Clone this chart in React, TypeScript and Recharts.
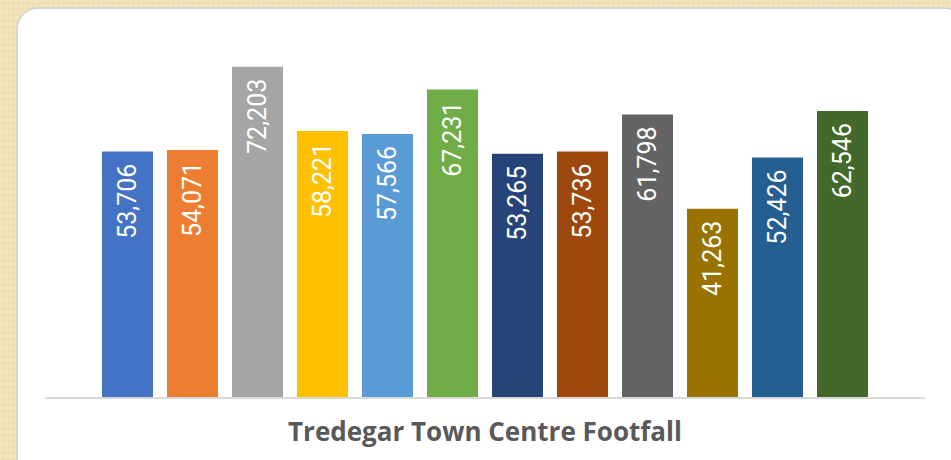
import { BarChart, Bar, XAxis, YAxis, Cell, LabelList, ReferenceLine } from "recharts";

const areas = ["A", "B", "C", "D", "E", "F", "G", "H", "I", "J", "K", "L"];
const footfall = [53706, 54071, 72203, 58221, 57566, 67231, 53265, 53736, 61798, 41263, 52426, 62546];
const barColors = [
  "#4472C4", "#ED7D31", "#A5A5A5", "#FFC000", "#5B9BD5", "#70AD47",
  "#264478", "#9E480E", "#636363", "#997300", "#255E91", "#43682B",
];
const title = "Tredegar Town Centre Footfall";

const data = areas.map((name, i) => ({ name, value: footfall[i] }));

const ValueLabel = (props: any) => {
  const { x, y, width, value } = props;
  const cx = x + width / 2;
  const ty = y + 12;
  return (
    <text
      x={cx}
      y={ty}
      transform={`rotate(-90 ${cx} ${ty})`}
      textAnchor="end"
      dominantBaseline="central"
      fill="#ffffff"
      fontFamily="Roboto, sans-serif"
      fontSize={25}
    >
      {Number(value).toLocaleString("en-US")}
    </text>
  );
};

export default function App() {
  return (
    <div
      style={{
        position: "fixed",
        left: 0,
        top: 0,
        width: 951,
        height: 460,
        overflow: "hidden",
        background:
          "repeating-linear-gradient(90deg, rgba(255,255,255,0.12) 0 2px, rgba(0,0,0,0) 2px 5px), repeating-linear-gradient(0deg, rgba(200,170,100,0.10) 0 2px, rgba(0,0,0,0) 2px 6px), #f3e3b9",
      }}
    >
      <div
        style={{
          position: "absolute",
          left: 16,
          top: 7,
          width: 950,
          height: 480,
          borderRadius: 22,
          background: "#ffffff",
          border: "2px solid #d6d6d6",
          boxSizing: "border-box",
        }}
      />
      <div style={{ position: "absolute", left: 0, top: 0 }}>
        <BarChart
          width={951}
          height={460}
          data={data}
          margin={{ top: 31, right: 26, bottom: 62, left: 45 }}
          barSize={51}
        >
          <XAxis
            dataKey="name"
            tick={false}
            height={0}
            padding={{ left: 50, right: 50 }}
            axisLine={false}
            tickLine={false}
          />
          <YAxis hide domain={[0, 80000]} />
          <Bar dataKey="value" isAnimationActive={false}>
            {data.map((d, i) => (
              <Cell key={d.name} fill={barColors[i]} />
            ))}
            <LabelList dataKey="value" content={ValueLabel} />
          </Bar>
          <ReferenceLine y={0} stroke="#d9d9d9" strokeWidth={2} />
        </BarChart>
      </div>
      <div
        style={{
          position: "absolute",
          left: 0,
          width: 970,
          top: 414,
          textAlign: "center",
          fontFamily: "'Open Sans', sans-serif",
          fontWeight: 700,
          fontSize: 26,
          color: "#595959",
          lineHeight: "34px",
        }}
      >
        {title}
      </div>
    </div>
  );
}
